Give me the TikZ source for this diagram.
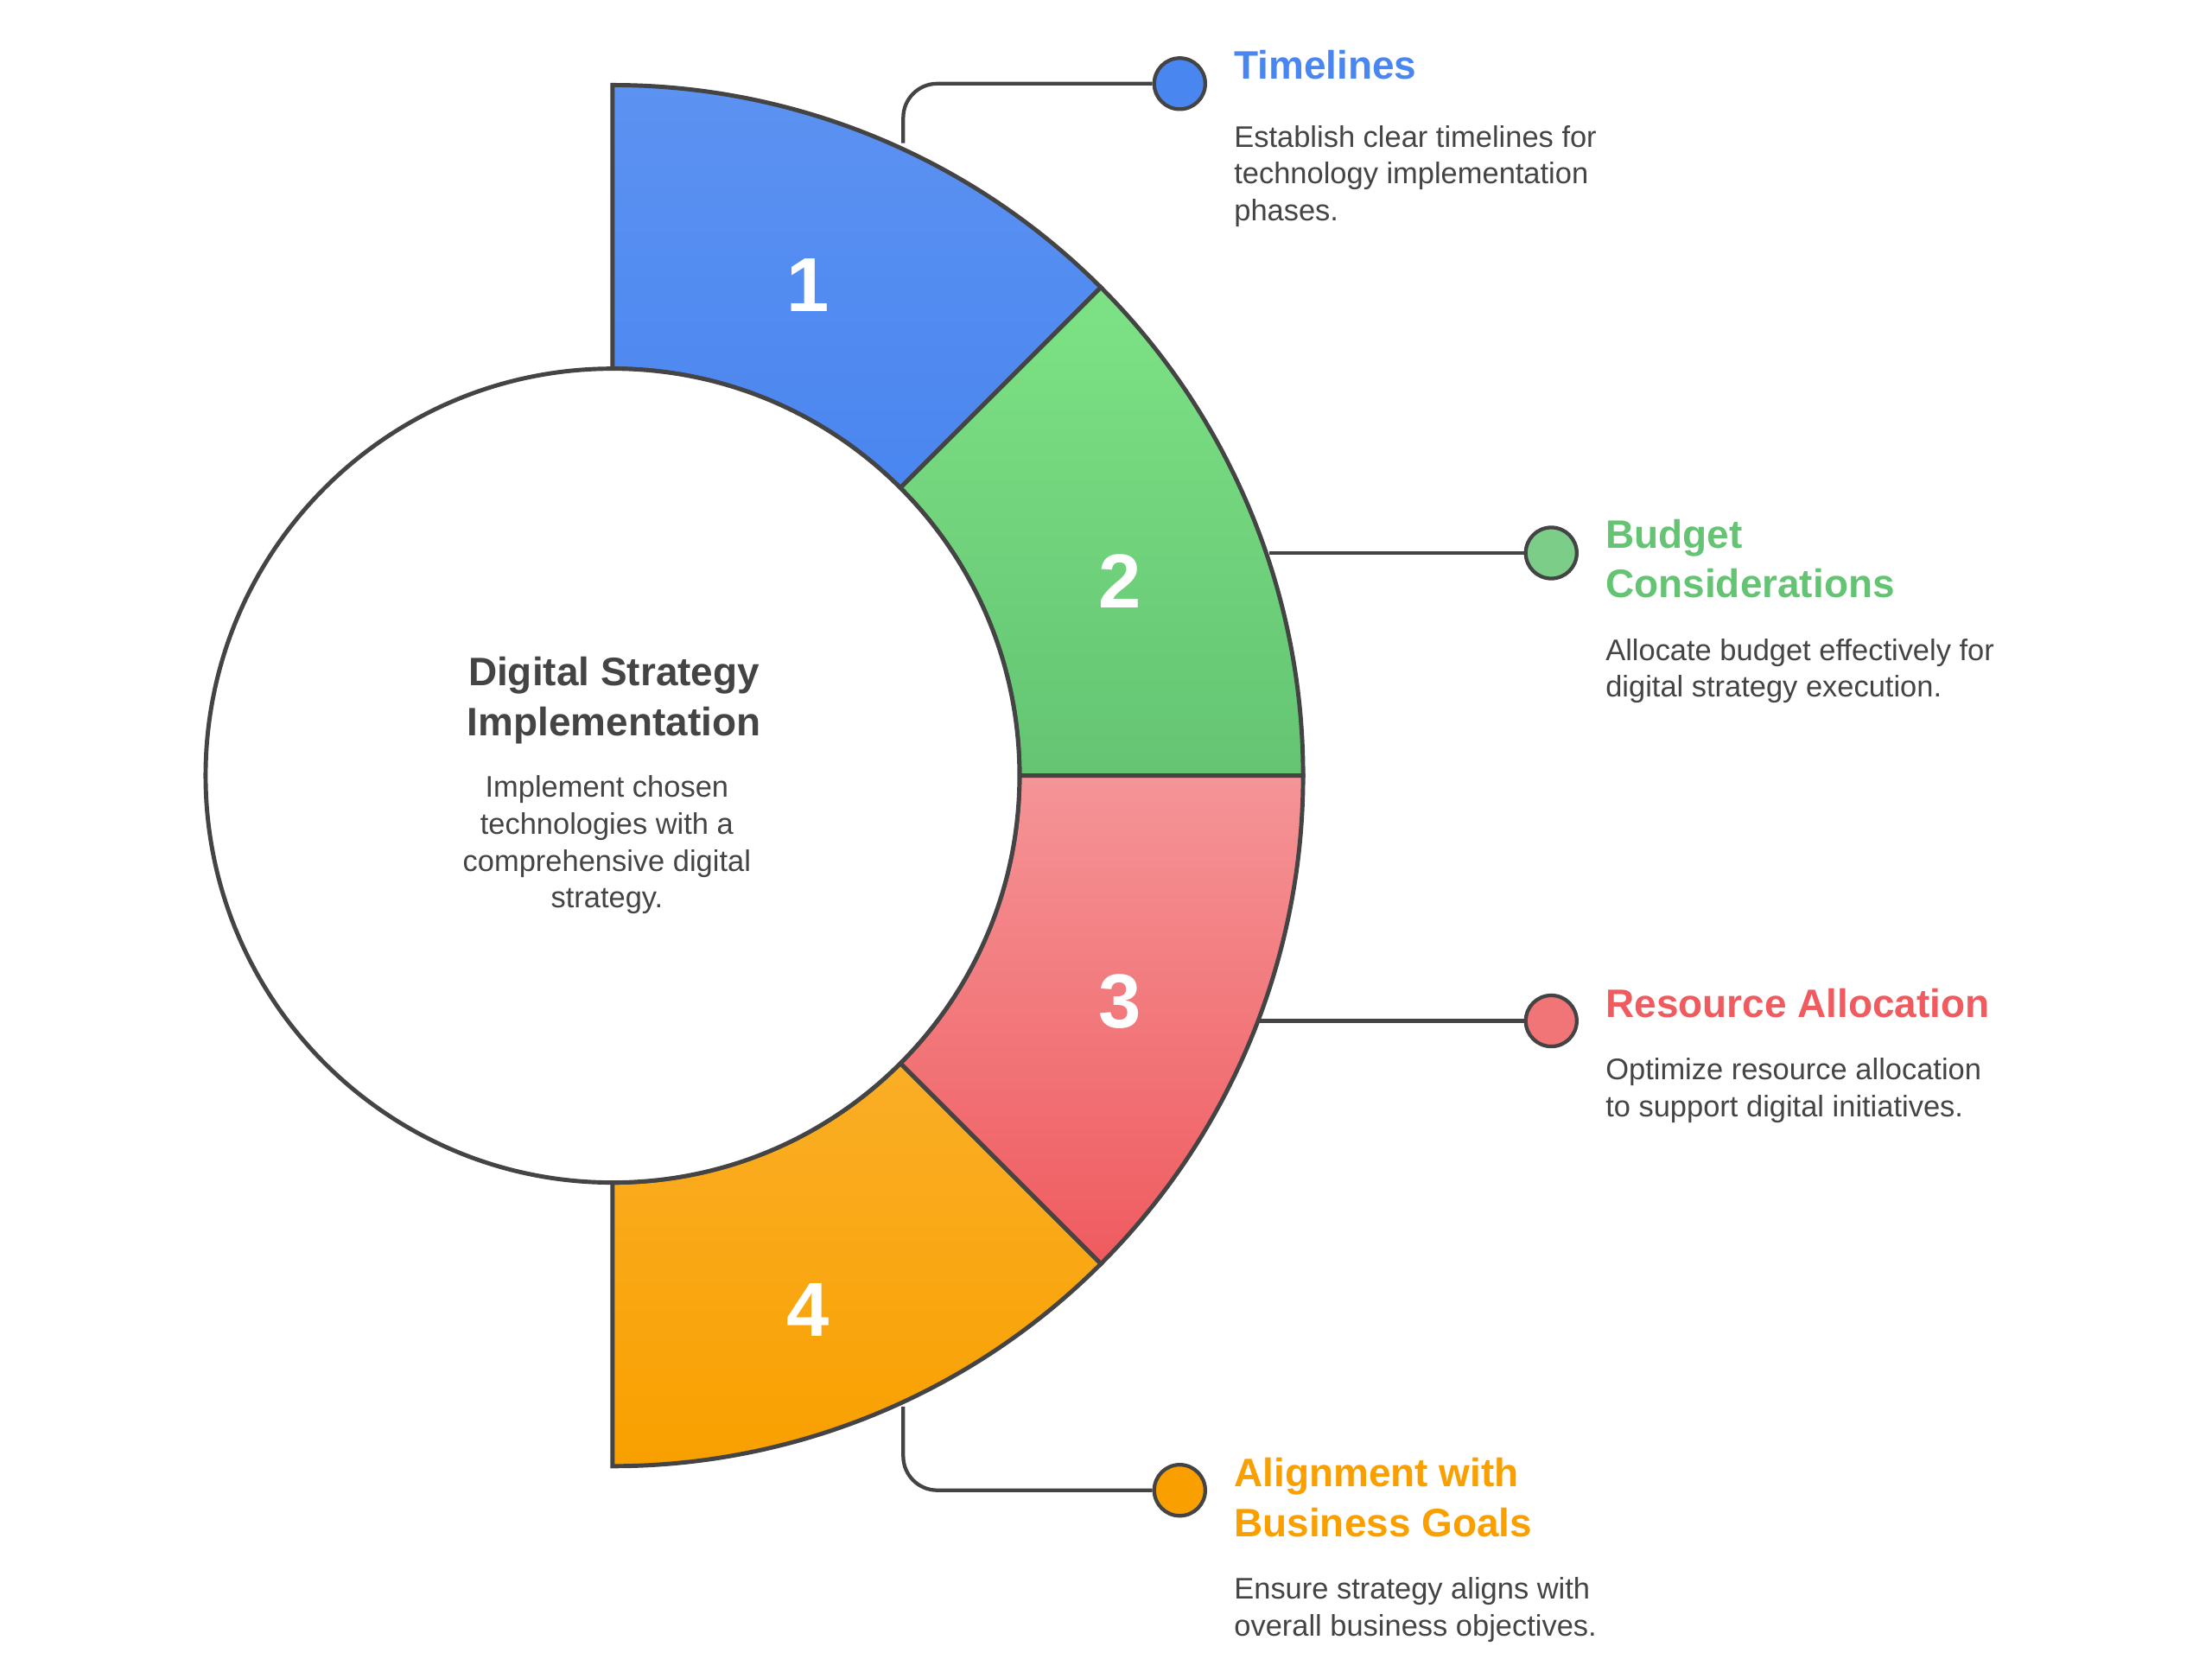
\documentclass[tikz,border=0pt]{standalone}
\usepackage{fontspec}
\setmainfont{Liberation Sans}
\usetikzlibrary{calc}
\definecolor{ol}{HTML}{444444}
\definecolor{txt}{HTML}{444444}
\definecolor{cb}{HTML}{4A86F0}
\definecolor{cg}{HTML}{64C473}
\definecolor{cr}{HTML}{EF5B5F}
\definecolor{co}{HTML}{F9A000}
\begin{document}
\begin{tikzpicture}[x=0.5pt,y=-0.5pt,
  seg/.style={draw=ol,line width=1.5pt},
  num/.style={text=white,font=\fontsize{27}{30}\selectfont\bfseries},
  ttl/.style={anchor=north west,align=left,font=\fontsize{14}{17.5}\selectfont\bfseries,inner sep=0},
  dsc/.style={anchor=north west,align=left,text=txt,font=\fontsize{10.5}{13}\selectfont,inner sep=0},
  dot/.style={circle,draw=ol,line width=1.3pt,minimum size=18pt,inner sep=0},
  con/.style={draw=ol,line width=1.3pt,rounded corners=12pt}]
\useasboundingbox (0,0) rectangle (1560,1170);
\coordinate (c) at (432,547);
\path[seg,top color=cb!90!white,bottom color=cb] ($(c)+(-90:487)$) arc[start angle=-90,end angle=-45,radius=487] -- ($(c)+(-45:287)$) arc[start angle=-45,end angle=-90,radius=287] -- cycle;
\path[seg,top color=green!30!cg!70!white,bottom color=cg] ($(c)+(-45:487)$) arc[start angle=-45,end angle=0,radius=487] -- ($(c)+(0:287)$) arc[start angle=0,end angle=-45,radius=287] -- cycle;
\path[seg,top color=cr!65!white,bottom color=cr] ($(c)+(0:487)$) arc[start angle=0,end angle=45,radius=487] -- ($(c)+(45:287)$) arc[start angle=45,end angle=0,radius=287] -- cycle;
\path[seg,top color=co!85!white,bottom color=co] ($(c)+(45:487)$) arc[start angle=45,end angle=90,radius=487] -- ($(c)+(90:287)$) arc[start angle=90,end angle=45,radius=287] -- cycle;
\node[circle,draw=ol,line width=1.5pt,fill=white,minimum size=287pt,inner sep=0] (hub) at (432,547) {};
\node[num] (n1) at (570,201) {1};
\node[num] (n2) at (790,410) {2};
\node[num] (n3) at (790,706) {3};
\node[num] (n4) at (570,924) {4};
\node[align=center,text=txt,font=\fontsize{14}{17.5}\selectfont\bfseries] (ht) at (433,494) {Digital Strategy\\Implementation};
\node[align=center,text=txt,font=\fontsize{10.5}{13}\selectfont] (hd) at (428,596) {Implement chosen\\technologies with a\\comprehensive digital\\strategy.};
\node[dot,fill=cb] (d1) at (832,59) {};
\node[dot,fill=cg!85!white] (d2) at (1094,390) {};
\node[dot,fill=cr!85!white] (d3) at (1094,720) {};
\node[dot,fill=co] (d4) at (832,1051) {};
\coordinate (s1) at (637,101);
\coordinate (s2) at (895,390);
\coordinate (s3) at (888,720);
\coordinate (s4) at (637,992);
\draw[con] (s1) |- (d1);
\draw[con] (s2) -- (d2);
\draw[con] (s3) -- (d3);
\draw[con] (s4) |- (d4);
\node[ttl,text=cb] (t1) at (870,35) {Timelines};
\node[dsc] (e1) at (870,88) {Establish clear timelines for\\technology implementation\\phases.};
\node[ttl,text=cg] (t2) at (1132,366) {Budget\\Considerations};
\node[dsc] (e2) at (1132,450) {Allocate budget effectively for\\digital strategy execution.};
\node[ttl,text=cr] (t3) at (1132,697) {Resource Allocation};
\node[dsc] (e3) at (1132,746) {Optimize resource allocation\\to support digital initiatives.};
\node[ttl,text=co] (t4) at (870,1028) {Alignment with\\Business Goals};
\node[dsc] (e4) at (870,1112) {Ensure strategy aligns with\\overall business objectives.};
\end{tikzpicture}
\end{document}
